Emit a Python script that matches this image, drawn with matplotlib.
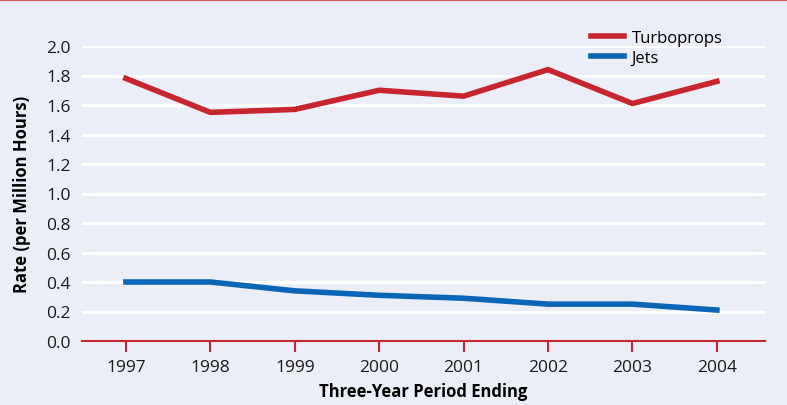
import matplotlib.pyplot as plt

years = [1997, 1998, 1999, 2000, 2001, 2002, 2003, 2004]
turboprops = [1.78, 1.55, 1.57, 1.70, 1.66, 1.84, 1.61, 1.76]
jets = [0.40, 0.40, 0.34, 0.31, 0.29, 0.25, 0.25, 0.21]
yticks = [0.0, 0.2, 0.4, 0.6, 0.8, 1.0, 1.2, 1.4, 1.6, 1.8, 2.0]

bg = '#eceef7'
red = '#c8262e'
blue = '#0866b4'

plt.rcParams['font.family'] = ['Open Sans', 'DejaVu Sans']

fig = plt.figure(figsize=(7.87, 4.06), dpi=100, facecolor=bg)
ax = fig.add_axes([82/787, 64/406, 683/787, 295/406])
ax.set_facecolor(bg)

# white gridlines
for t in yticks[1:]:
    ax.axhline(t, color='white', lw=2.2, zorder=1)

ax.plot(years, turboprops, color=red, lw=4, label='Turboprops', zorder=3)
ax.plot(years, jets, color=blue, lw=4, label='Jets', zorder=3)

ax.set_xlim(1996.48, 2004.57)
ax.set_ylim(0, 2.0)
ax.set_xticks(years)
ax.set_yticks(yticks)
ax.set_yticklabels([f'{t:.1f}' for t in yticks])

for s in ['top', 'right', 'left']:
    ax.spines[s].set_visible(False)
ax.spines['bottom'].set_color(red)
ax.spines['bottom'].set_linewidth(1.5)
ax.spines['bottom'].set_zorder(4)

ax.tick_params(axis='x', colors=red, length=8, width=1.5, labelcolor='#1a1a1a',
               labelsize=12.5, pad=5)
ax.tick_params(axis='y', length=0, labelsize=12.5, labelcolor='#1a1a1a', pad=8)

ax.set_xlabel('Three-Year Period Ending', fontsize=12, fontweight='bold', labelpad=5)
ax.set_ylabel('Rate (per Million Hours)', fontsize=12, fontweight='bold', labelpad=11)

ax.legend(loc='upper right', bbox_to_anchor=(0.96, 1.105), frameon=False, fontsize=12,
          handlelength=2.0, handletextpad=0.45, labelspacing=0.25)

fig.add_artist(plt.Line2D([0, 1], [1 - 1/406, 1 - 1/406], color='#d9545a', lw=1.5))

fig.savefig('out.png', dpi=100, facecolor=bg)
